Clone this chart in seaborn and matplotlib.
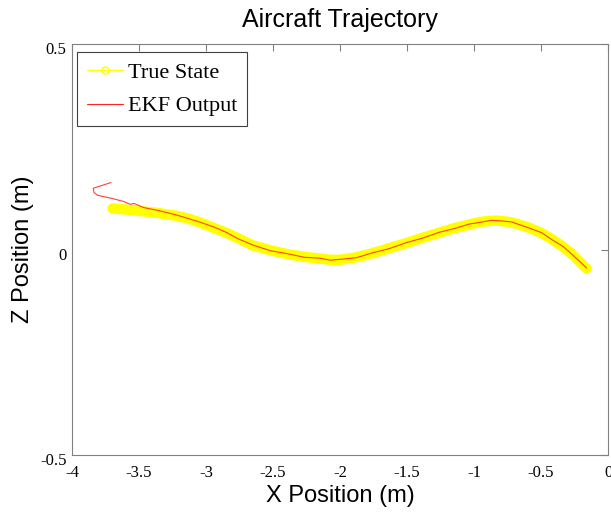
import matplotlib
matplotlib.use("Agg")
import matplotlib.pyplot as plt
import matplotlib.transforms as mtransforms
import seaborn as sns
import pandas as pd
from matplotlib.lines import Line2D

# True state trajectory
true_x = [-3.698, -3.587, -3.475, -3.363, -3.220, -3.129, -3.048, -2.946, -2.844, -2.753,
          -2.651, -2.519, -2.397, -2.265, -2.153, -2.072, -2.000, -1.878, -1.756, -1.634,
          -1.502, -1.380, -1.258, -1.146, -1.034, -0.953, -0.872, -0.811, -0.719, -0.587,
          -0.496, -0.414, -0.333, -0.262, -0.211, -0.160]
true_z = [0.100, 0.097, 0.093, 0.089, 0.082, 0.075, 0.066, 0.053, 0.040, 0.026,
          0.010, -0.002, -0.011, -0.018, -0.022, -0.025, -0.025, -0.019, -0.009, 0.003,
          0.016, 0.029, 0.041, 0.052, 0.061, 0.067, 0.070, 0.070, 0.066, 0.053,
          0.040, 0.024, 0.006, -0.013, -0.030, -0.046]

# EKF estimate
ekf_x = [-3.709, -3.841, -3.836, -3.810, -3.698, -3.617, -3.566, -3.536, -3.465, -3.343,
         -3.210, -3.129, -3.048, -2.936, -2.844, -2.753, -2.651, -2.519, -2.397, -2.265,
         -2.153, -2.072, -2.000, -1.878, -1.756, -1.634, -1.502, -1.380, -1.258, -1.146,
         -1.034, -0.953, -0.872, -0.811, -0.719, -0.587, -0.496, -0.414, -0.333, -0.262,
         -0.211, -0.160]
ekf_z = [0.163, 0.149, 0.139, 0.132, 0.124, 0.117, 0.110, 0.112, 0.102, 0.094,
         0.083, 0.075, 0.067, 0.054, 0.041, 0.025, 0.011, -0.003, -0.010, -0.019,
         -0.021, -0.026, -0.024, -0.020, -0.008, 0.002, 0.017, 0.028, 0.042, 0.051,
         0.062, 0.066, 0.071, 0.070, 0.067, 0.052, 0.041, 0.023, 0.007, -0.014,
         -0.029, -0.045]

x_ticks = [-4, -3.5, -3, -2.5, -2, -1.5, -1, -0.5, 0]
x_tick_labels = ["-4", "-3.5", "-3", "-2.5", "-2", "-1.5", "-1", "-0.5", "0"]
y_ticks = [-0.5, 0, 0.5]
y_tick_labels = ["-0.5", "0", "0.5"]

sns.set_style("white")
plt.rcParams["font.family"] = ["Liberation Sans", "DejaVu Sans"]
plt.rcParams["text.color"] = "black"
plt.rcParams["axes.labelcolor"] = "black"

W, H = 611, 516
fig = plt.figure(figsize=(W / 100, H / 100), dpi=100)
ax = fig.add_axes([72 / W, 1 - 455 / H, (608 - 72) / W, (455 - 44) / H])

true_df = pd.DataFrame({"x": true_x, "z": true_z})
ekf_df = pd.DataFrame({"x": ekf_x, "z": ekf_z})

sns.lineplot(data=true_df, x="x", y="z", sort=False, estimator=None, ax=ax,
             color="#ffff00", linewidth=7.5, solid_capstyle="round",
             solid_joinstyle="round")
sns.lineplot(data=ekf_df, x="x", y="z", sort=False, estimator=None, ax=ax,
             color="#ff2020", linewidth=0.8, alpha=0.85)

ax.set_xlim(-4, 0)
ax.set_ylim(-0.5, 0.5)
ax.set_xticks(x_ticks)
ax.set_xticklabels(x_tick_labels)
ax.set_yticks(y_ticks)
ax.set_yticklabels(y_tick_labels)

for s in ax.spines.values():
    s.set_color("#808080")
    s.set_linewidth(0.8)
ax.tick_params(direction="in", length=5, width=0.8, color="#808080",
               top=True, right=True, labelsize=12, labelcolor="black")
ax.tick_params(axis="x", pad=7)
ax.tick_params(axis="y", pad=4)
for lab in ax.get_xticklabels() + ax.get_yticklabels():
    lab.set_fontfamily(["Liberation Serif"])
    lab.set_color("black")
shift = mtransforms.ScaledTranslation(0, -4 / 100, fig.dpi_scale_trans)
for lab in ax.get_yticklabels():
    lab.set_transform(lab.get_transform() + shift)

ax.set_title("Aircraft Trajectory", fontsize=18, pad=12, color="black")
ax.set_xlabel("X Position (m)", fontsize=17, labelpad=3, color="black")
ax.set_ylabel("Z Position (m)", fontsize=17, labelpad=4, color="black")

handles = [
    Line2D([0], [0], color="#ffff00", lw=1, marker="o", markersize=5,
           markerfacecolor="none", markeredgecolor="#ffff00"),
    Line2D([0], [0], color="#ff2020", lw=0.8),
]
leg = ax.legend(handles, ["True State", "EKF Output"], loc="upper left",
                bbox_to_anchor=(77 / W, 1 - 52 / H),
                bbox_transform=fig.transFigure,
                prop={"family": "Liberation Serif", "size": 16},
                fancybox=False, framealpha=1, edgecolor="#404040",
                borderaxespad=0, handlelength=1.6, handletextpad=0.25,
                borderpad=0.45, labelspacing=0.6)
leg.get_frame().set_linewidth(0.8)
for t in leg.get_texts():
    t.set_color("black")

fig.savefig("out.png", dpi=100)
